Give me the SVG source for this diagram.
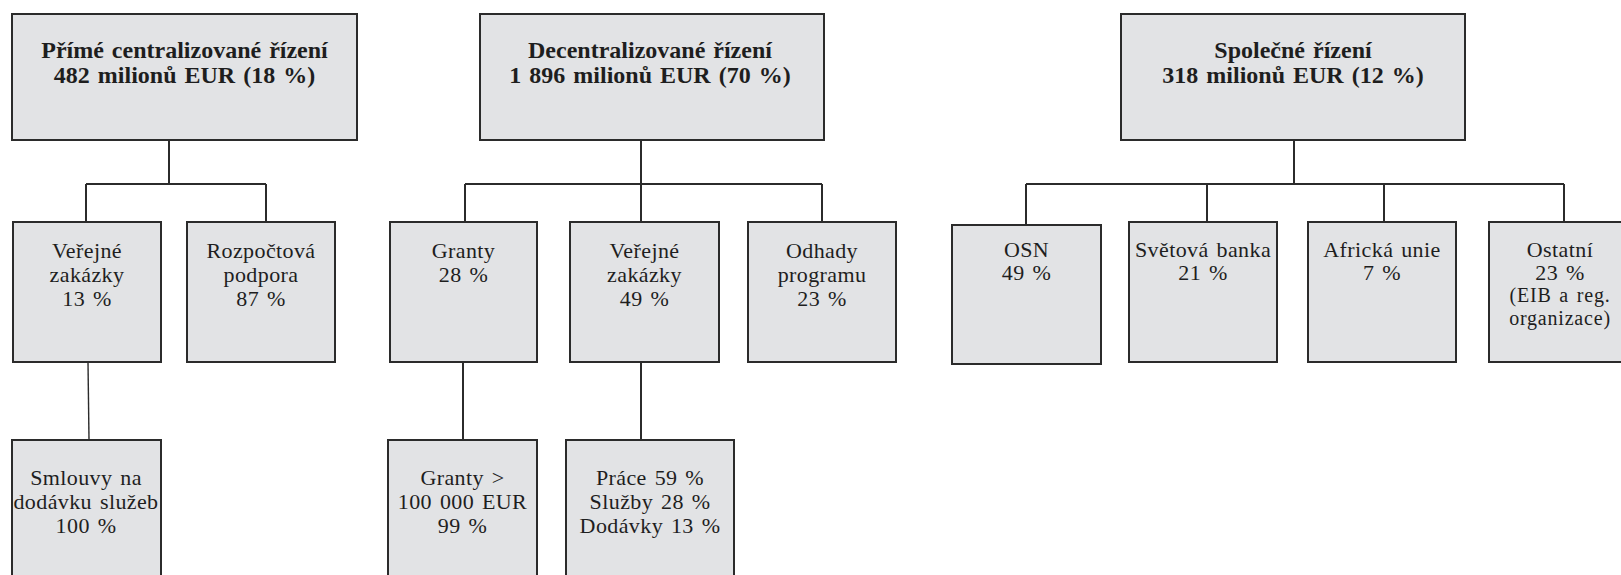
<svg xmlns="http://www.w3.org/2000/svg" width="1621" height="575" viewBox="0 0 1621 575">
<style>
.box{fill:#e2e3e5;stroke:#2b2b2b;stroke-width:2}
.t{font-family:"Liberation Serif","DejaVu Serif",serif;font-size:22px;fill:#1e1e1e;text-anchor:middle;word-spacing:2px;letter-spacing:0.4px}
.s{font-size:20px;letter-spacing:0.8px}
.h{font-family:"Liberation Serif","DejaVu Serif",serif;font-size:24px;font-weight:bold;fill:#1e1e1e;text-anchor:middle;word-spacing:2px}
.c{fill:none;stroke:#2b2b2b;stroke-width:2}
.c2{fill:none;stroke:#2b2b2b;stroke-width:1.4}
</style>
<rect width="1621" height="575" fill="#ffffff"/>
<g id="connectors">
<path class="c" d="M169,140V184M86,184H266M86,184V222M266,184V222"/>
<path class="c2" d="M88,362L89,440"/>
<path class="c" d="M641,140V184M465,184H822M465,184V222M641,184V222M822,184V222"/>
<path class="c" d="M463,362V440M641,362V440"/>
<path class="c" d="M1294,140V184M1026,184H1564M1026,184V225M1207,184V222M1384,184V222M1564,184V222"/>
</g>
<g id="n-prime">
<rect class="box" x="12" y="14" width="345" height="126"/>
<text class="h" x="184.5" y="58">Přímé centralizované řízení</text>
<text class="h" x="184.5" y="83">482 milionů EUR (18 %)</text>
</g>
<g id="n-decentral">
<rect class="box" x="480" y="14" width="344" height="126"/>
<text class="h" x="650" y="58">Decentralizované řízení</text>
<text class="h" x="650" y="83">1 896 milionů EUR (70 %)</text>
</g>
<g id="n-spolecne">
<rect class="box" x="1121" y="14" width="344" height="126"/>
<text class="h" x="1293" y="58">Společné řízení</text>
<text class="h" x="1293" y="83">318 milionů EUR (12 %)</text>
</g>
<g id="n-verejne-a">
<rect class="box" x="13" y="222" width="148" height="140"/>
<text class="t" x="87" y="258">Veřejné</text>
<text class="t" x="87" y="282">zakázky</text>
<text class="t" x="87" y="306">13 %</text>
</g>
<g id="n-rozpoctova">
<rect class="box" x="187" y="222" width="148" height="140"/>
<text class="t" x="261" y="258">Rozpočtová</text>
<text class="t" x="261" y="282">podpora</text>
<text class="t" x="261" y="306">87 %</text>
</g>
<g id="n-granty">
<rect class="box" x="390" y="222" width="147" height="140"/>
<text class="t" x="463.5" y="258">Granty</text>
<text class="t" x="463.5" y="282">28 %</text>
</g>
<g id="n-verejne-b">
<rect class="box" x="570" y="222" width="149" height="140"/>
<text class="t" x="644.5" y="258">Veřejné</text>
<text class="t" x="644.5" y="282">zakázky</text>
<text class="t" x="644.5" y="306">49 %</text>
</g>
<g id="n-odhady">
<rect class="box" x="748" y="222" width="148" height="140"/>
<text class="t" x="822" y="258">Odhady</text>
<text class="t" x="822" y="282">programu</text>
<text class="t" x="822" y="306">23 %</text>
</g>
<g id="n-osn">
<rect class="box" x="952" y="225" width="149" height="139"/>
<text class="t" x="1026.5" y="257">OSN</text>
<text class="t" x="1026.5" y="280">49 %</text>
</g>
<g id="n-svetova">
<rect class="box" x="1129" y="222" width="148" height="140"/>
<text class="t" x="1203" y="257">Světová banka</text>
<text class="t" x="1203" y="280">21 %</text>
</g>
<g id="n-africka">
<rect class="box" x="1308" y="222" width="148" height="140"/>
<text class="t" x="1382" y="257">Africká unie</text>
<text class="t" x="1382" y="280">7 %</text>
</g>
<g id="n-ostatni">
<rect class="box" x="1489" y="222" width="148" height="140"/>
<text class="t" x="1560" y="257">Ostatní</text>
<text class="t" x="1560" y="280">23 %</text>
<text class="t s" x="1560" y="302">(EIB a reg.</text>
<text class="t s" x="1560" y="325">organizace)</text>
</g>
<g id="n-smlouvy">
<rect class="box" x="12" y="440" width="149" height="150"/>
<text class="t" x="86" y="485">Smlouvy na</text>
<text class="t" x="86" y="509">dodávku služeb</text>
<text class="t" x="86" y="533">100 %</text>
</g>
<g id="n-granty100">
<rect class="box" x="388" y="440" width="149" height="150"/>
<text class="t" x="462.5" y="485">Granty &gt;</text>
<text class="t" x="462.5" y="509">100 000 EUR</text>
<text class="t" x="462.5" y="533">99 %</text>
</g>
<g id="n-prace">
<rect class="box" x="566" y="440" width="168" height="150"/>
<text class="t" x="650" y="485">Práce 59 %</text>
<text class="t" x="650" y="509">Služby 28 %</text>
<text class="t" x="650" y="533">Dodávky 13 %</text>
</g>
</svg>
